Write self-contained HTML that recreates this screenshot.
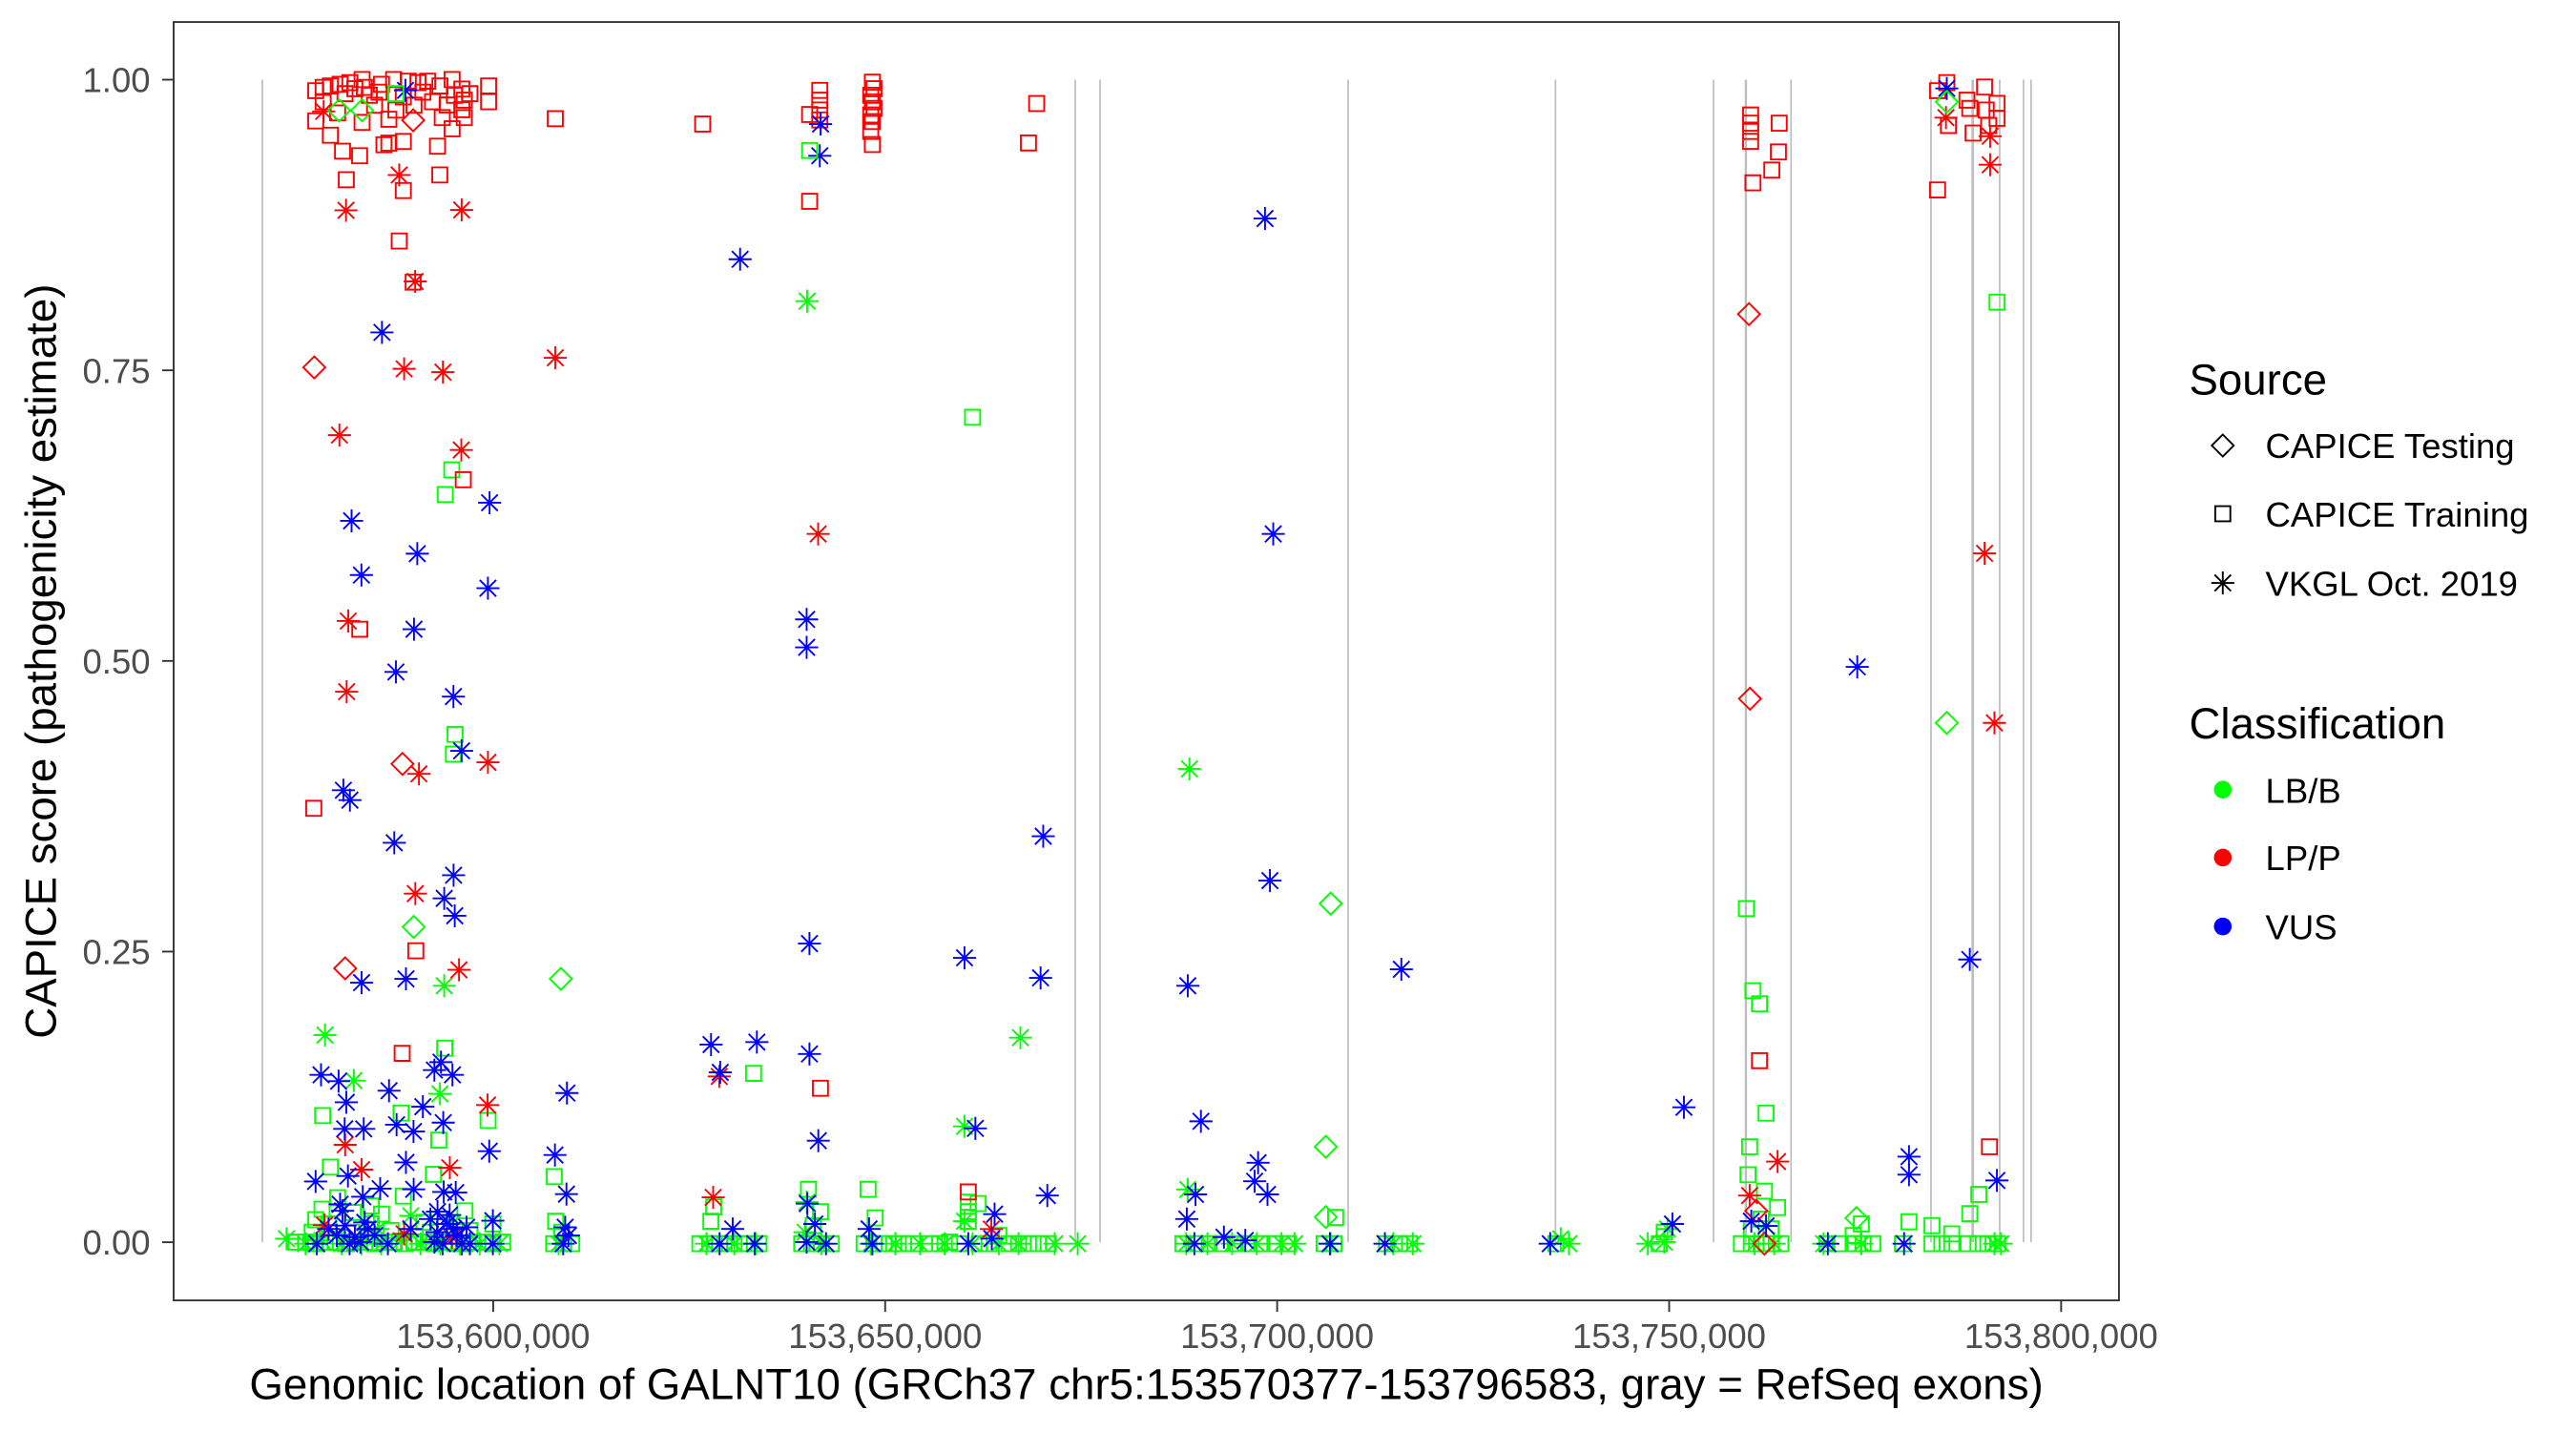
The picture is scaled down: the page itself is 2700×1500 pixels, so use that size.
<!DOCTYPE html>
<html><head><meta charset="utf-8"><style>
html,body{margin:0;padding:0;background:#fff;}
svg{display:block;}
text{font-family:"Liberation Sans",Arial,sans-serif;}
</style></head><body>
<svg width="2700" height="1500" viewBox="0 0 1568 871" preserveAspectRatio="none" xmlns="http://www.w3.org/2000/svg">
<defs>
<path id="s" d="M-4.6-4.6h9.2v9.2h-9.2z"/>
<path id="d" d="M0-6.7L6.7 0 0 6.7-6.7 0z"/>
<path id="a" d="M0-7V7M-7 0H7M-5-5L5 5M-5 5L5-5"/>
</defs>
<rect x="0" y="0" width="1568" height="871" fill="#fff"/>
<g stroke="#bebebe" stroke-width="1">
<line x1="159.7" y1="48.5" x2="159.7" y2="756.1"/>
<line x1="654.5" y1="48.5" x2="654.5" y2="756.1"/>
<line x1="669.6" y1="48.5" x2="669.6" y2="756.1"/>
<line x1="820.6" y1="48.5" x2="820.6" y2="756.1"/>
<line x1="946.8" y1="48.5" x2="946.8" y2="756.1"/>
<line x1="1043" y1="48.5" x2="1043" y2="756.1"/>
<line x1="1062.7" y1="48.5" x2="1062.7" y2="756.1" stroke-width="1.4"/>
<line x1="1090.2" y1="48.5" x2="1090.2" y2="756.1"/>
<line x1="1175.4" y1="48.5" x2="1175.4" y2="756.1"/>
<line x1="1200.8" y1="48.5" x2="1200.8" y2="756.1" stroke-width="1.6"/>
<line x1="1217.2" y1="48.5" x2="1217.2" y2="756.1"/>
<line x1="1231.7" y1="48.5" x2="1231.7" y2="756.1"/>
<line x1="1236.3" y1="48.5" x2="1236.3" y2="756.1"/>
</g>
<g fill="none" stroke="#00ff00" stroke-width="1.1">
<use href="#s" x="270.7" y="638"/><use href="#s" x="271" y="301"/><use href="#s" x="275" y="286"/><use href="#s" x="277" y="447"/><use href="#s" x="276" y="459"/>
<use href="#s" x="196.4" y="679"/><use href="#s" x="244.1" y="677.5"/><use href="#s" x="297.1" y="682"/><use href="#s" x="267.1" y="694"/><use href="#s" x="201.1" y="710.4"/><use href="#s" x="263.8" y="714.8"/><use href="#s" x="205.5" y="729"/><use href="#s" x="232.2" y="739"/><use href="#s" x="245.5" y="728"/><use href="#s" x="192.2" y="742.4"/>
<use href="#s" x="180" y="756"/><use href="#s" x="186" y="756"/><use href="#s" x="192" y="757"/><use href="#s" x="198" y="756"/><use href="#s" x="204" y="756"/><use href="#s" x="210" y="757"/><use href="#s" x="216" y="756"/><use href="#s" x="222" y="756"/><use href="#s" x="228" y="757"/><use href="#s" x="234" y="756"/><use href="#s" x="240" y="756"/><use href="#s" x="246" y="757"/><use href="#s" x="252" y="756"/><use href="#s" x="258" y="756"/><use href="#s" x="264" y="757"/><use href="#s" x="270" y="756"/><use href="#s" x="276" y="756"/><use href="#s" x="282" y="757"/><use href="#s" x="288" y="756"/><use href="#s" x="294" y="756"/><use href="#s" x="300" y="757"/><use href="#s" x="306" y="756"/>
<use href="#s" x="190" y="750"/><use href="#s" x="214" y="750"/><use href="#s" x="238" y="749"/><use href="#s" x="262" y="750"/><use href="#s" x="286" y="749"/><use href="#s" x="200" y="745"/><use href="#s" x="226" y="745"/><use href="#s" x="258" y="744"/><use href="#s" x="300" y="745"/><use href="#s" x="215" y="738"/><use href="#s" x="283" y="737"/><use href="#s" x="196" y="736"/><use href="#s" x="226" y="734"/>
<use href="#s" x="337.4" y="716.2"/><use href="#s" x="338.2" y="743.3"/><use href="#s" x="342" y="750"/><use href="#s" x="337" y="757"/><use href="#s" x="343" y="757"/><use href="#s" x="348" y="757"/>
<use href="#s" x="458.7" y="653.3"/><use href="#s" x="434.4" y="734.6"/><use href="#s" x="432.7" y="743.3"/><use href="#s" x="426" y="757"/><use href="#s" x="432" y="757"/><use href="#s" x="438" y="757"/><use href="#s" x="444" y="757"/><use href="#s" x="450" y="757"/><use href="#s" x="456" y="757"/><use href="#s" x="462" y="757"/>
<use href="#s" x="492.1" y="723.9"/><use href="#s" x="499.4" y="737.5"/><use href="#s" x="495" y="746"/><use href="#s" x="488" y="757"/><use href="#s" x="494" y="757"/><use href="#s" x="500" y="757"/><use href="#s" x="506" y="757"/>
<use href="#s" x="528.4" y="723.9"/><use href="#s" x="532.7" y="741.3"/><use href="#s" x="526" y="757"/><use href="#s" x="532" y="757"/><use href="#s" x="538" y="757"/><use href="#s" x="544" y="757"/><use href="#s" x="550" y="757"/><use href="#s" x="556" y="757"/>
<use href="#s" x="589.4" y="731.7"/><use href="#s" x="595.4" y="732.6"/><use href="#s" x="589.4" y="737.5"/><use href="#s" x="589.4" y="743.3"/><use href="#s" x="592" y="254"/>
<use href="#s" x="566" y="757"/><use href="#s" x="572" y="757"/><use href="#s" x="578" y="756"/><use href="#s" x="584" y="757"/><use href="#s" x="596" y="757"/><use href="#s" x="602" y="757"/><use href="#s" x="608" y="752"/><use href="#s" x="614" y="757"/><use href="#s" x="620" y="757"/><use href="#s" x="626" y="757"/><use href="#s" x="632" y="757"/><use href="#s" x="638" y="757"/>
<use href="#s" x="720" y="757"/><use href="#s" x="728" y="757"/><use href="#s" x="736" y="757"/><use href="#s" x="744" y="757"/><use href="#s" x="752" y="757"/><use href="#s" x="760" y="757"/><use href="#s" x="768" y="757"/><use href="#s" x="776" y="757"/><use href="#s" x="784" y="757"/>
<use href="#s" x="813" y="741"/><use href="#s" x="806" y="757"/><use href="#s" x="812" y="757"/><use href="#s" x="844" y="757"/><use href="#s" x="852" y="757"/><use href="#s" x="858" y="757"/><use href="#s" x="947" y="757"/><use href="#s" x="1010" y="757"/><use href="#s" x="1013" y="750"/>
<use href="#s" x="1063" y="553"/><use href="#s" x="1067" y="603"/><use href="#s" x="1071" y="611"/><use href="#s" x="1075" y="677.5"/><use href="#s" x="1065" y="698"/><use href="#s" x="1064" y="715"/><use href="#s" x="1074" y="725"/><use href="#s" x="1082" y="735"/><use href="#s" x="1072" y="742"/><use href="#s" x="1078" y="748"/><use href="#s" x="1066" y="748"/>
<use href="#s" x="1060" y="757"/><use href="#s" x="1066" y="757"/><use href="#s" x="1072" y="757"/><use href="#s" x="1078" y="757"/><use href="#s" x="1084" y="757"/>
<use href="#s" x="1133" y="745"/><use href="#s" x="1128" y="752"/><use href="#s" x="1112" y="757"/><use href="#s" x="1120" y="757"/><use href="#s" x="1128" y="757"/><use href="#s" x="1134" y="757"/><use href="#s" x="1140" y="757"/>
<use href="#s" x="1162" y="743.6"/><use href="#s" x="1176" y="746"/><use href="#s" x="1188" y="751"/><use href="#s" x="1158" y="757"/><use href="#s" x="1176" y="757"/><use href="#s" x="1182" y="757"/><use href="#s" x="1188" y="757"/><use href="#s" x="1198" y="757"/><use href="#s" x="1204" y="757"/><use href="#s" x="1210" y="757"/><use href="#s" x="1216" y="757"/>
<use href="#s" x="1215.6" y="183.9"/><use href="#s" x="1204.5" y="727"/><use href="#s" x="1199" y="738.7"/>
<use href="#a" x="174.4" y="754"/><use href="#a" x="197.8" y="630"/><use href="#a" x="215.4" y="657.7"/><use href="#a" x="267.8" y="665.8"/><use href="#a" x="270.4" y="600"/>
<use href="#a" x="186" y="757"/><use href="#a" x="196" y="755"/><use href="#a" x="208" y="757"/><use href="#a" x="220" y="757"/><use href="#a" x="232" y="757"/><use href="#a" x="244" y="755"/><use href="#a" x="256" y="757"/><use href="#a" x="268" y="757"/><use href="#a" x="280" y="757"/><use href="#a" x="292" y="757"/><use href="#a" x="304" y="757"/><use href="#a" x="230" y="748"/><use href="#a" x="275" y="745"/><use href="#a" x="250" y="740"/>
<use href="#a" x="491.3" y="183.3"/><use href="#a" x="587.1" y="685.6"/><use href="#a" x="621.1" y="631.6"/><use href="#a" x="587.1" y="743.3"/><use href="#a" x="656" y="757"/><use href="#a" x="723" y="724"/><use href="#a" x="724" y="468"/><use href="#a" x="491.1" y="731.7"/>
<use href="#a" x="340" y="757"/><use href="#a" x="430" y="757"/><use href="#a" x="447" y="757"/><use href="#a" x="460" y="757"/><use href="#a" x="490" y="750"/><use href="#a" x="500" y="757"/><use href="#a" x="530" y="757"/><use href="#a" x="545" y="757"/><use href="#a" x="560" y="757"/><use href="#a" x="575" y="757"/><use href="#a" x="592" y="757"/><use href="#a" x="608" y="757"/><use href="#a" x="620" y="757"/><use href="#a" x="642" y="757"/>
<use href="#a" x="722" y="757"/><use href="#a" x="735" y="757"/><use href="#a" x="750" y="757"/><use href="#a" x="765" y="757"/><use href="#a" x="780" y="757"/><use href="#a" x="788" y="757"/><use href="#a" x="810" y="757"/><use href="#a" x="848" y="757"/><use href="#a" x="860" y="757"/>
<use href="#a" x="950" y="754"/><use href="#a" x="955" y="757"/><use href="#a" x="1003" y="757"/><use href="#a" x="1015" y="748"/><use href="#a" x="1013" y="756"/>
<use href="#a" x="1068" y="757"/><use href="#a" x="1080" y="757"/><use href="#a" x="1110" y="757"/><use href="#a" x="1133" y="757"/><use href="#a" x="1214" y="757"/><use href="#a" x="1218" y="757"/>
<use href="#d" x="251.8" y="564.2"/><use href="#d" x="341.4" y="595.8"/><use href="#d" x="807" y="698"/><use href="#d" x="807" y="740.8"/><use href="#d" x="810" y="550"/><use href="#d" x="1130" y="741.4"/><use href="#d" x="1185" y="440"/>
</g>
<g fill="none" stroke="#ff0000" stroke-width="1.1">
<use href="#s" x="192.2" y="55.2"/><use href="#s" x="196.7" y="53.2"/><use href="#s" x="201.1" y="52.3"/><use href="#s" x="207" y="51.3"/><use href="#s" x="213" y="50.3"/><use href="#s" x="220.4" y="48.4"/><use href="#s" x="221.8" y="53.2"/><use href="#s" x="232.2" y="51.3"/><use href="#s" x="239.6" y="48.4"/><use href="#s" x="248.5" y="49.4"/><use href="#s" x="254.4" y="50.3"/><use href="#s" x="260.3" y="49.4"/><use href="#s" x="267.8" y="52.3"/><use href="#s" x="275.2" y="48.4"/><use href="#s" x="281.1" y="54.2"/><use href="#s" x="297.4" y="52.3"/><use href="#s" x="297.4" y="61.9"/>
<use href="#s" x="192.2" y="73.6"/><use href="#s" x="201.1" y="82.3"/><use href="#s" x="208.5" y="92"/><use href="#s" x="218.9" y="94.8"/><use href="#s" x="233.7" y="88.1"/><use href="#s" x="236.7" y="87.1"/><use href="#s" x="245.5" y="86.1"/><use href="#s" x="266.3" y="89"/><use href="#s" x="275.2" y="78.4"/><use href="#s" x="282.6" y="71.6"/><use href="#s" x="269.2" y="71.6"/><use href="#s" x="236.7" y="72.6"/><use href="#s" x="263.3" y="61.9"/><use href="#s" x="272.2" y="63.9"/><use href="#s" x="281.1" y="66.8"/><use href="#s" x="196.7" y="61.9"/><use href="#s" x="205.5" y="68.7"/><use href="#s" x="220.4" y="74.5"/><use href="#s" x="224.8" y="58"/><use href="#s" x="230.7" y="56.1"/><use href="#s" x="245.5" y="59"/><use href="#s" x="257.4" y="56.1"/><use href="#s" x="276.6" y="58"/><use href="#s" x="282.6" y="61"/><use href="#s" x="210" y="57"/><use href="#s" x="216" y="54"/><use href="#s" x="228" y="64"/><use href="#s" x="252" y="64"/><use href="#s" x="241" y="67"/><use href="#s" x="286" y="57"/>
<use href="#s" x="243" y="146.7"/><use href="#s" x="210.8" y="109.4"/><use href="#s" x="245.5" y="116"/><use href="#s" x="267.7" y="106.5"/><use href="#s" x="251.5" y="171.7"/>
<use href="#s" x="191" y="492"/><use href="#s" x="219" y="383"/><use href="#s" x="253.1" y="578.7"/><use href="#s" x="282" y="292"/><use href="#s" x="244.8" y="641.1"/>
<use href="#s" x="338" y="72.2"/><use href="#s" x="427.7" y="75.5"/><use href="#s" x="492.8" y="69.7"/><use href="#s" x="499" y="55"/><use href="#s" x="499" y="61"/><use href="#s" x="499" y="67"/><use href="#s" x="499" y="73"/><use href="#s" x="492.8" y="122.5"/>
<use href="#s" x="531" y="50"/><use href="#s" x="532" y="54"/><use href="#s" x="530" y="58"/><use href="#s" x="531" y="62"/><use href="#s" x="532" y="66"/><use href="#s" x="530" y="70"/><use href="#s" x="531" y="74"/><use href="#s" x="530" y="80"/><use href="#s" x="531" y="88"/>
<use href="#s" x="626" y="87"/><use href="#s" x="631" y="63"/><use href="#s" x="499.4" y="662.4"/><use href="#s" x="589.4" y="725.5"/>
<use href="#s" x="1065.6" y="70"/><use href="#s" x="1065.6" y="75"/><use href="#s" x="1065.6" y="80"/><use href="#s" x="1065.6" y="86"/><use href="#s" x="1083" y="75"/><use href="#s" x="1082.5" y="92.5"/><use href="#s" x="1078.5" y="103.5"/><use href="#s" x="1067" y="111.3"/><use href="#s" x="1071" y="645.6"/>
<use href="#s" x="1179.4" y="55.2"/><use href="#s" x="1185" y="50.3"/><use href="#s" x="1197.3" y="61"/><use href="#s" x="1199" y="66"/><use href="#s" x="1208" y="53"/><use href="#s" x="1215.6" y="62.9"/><use href="#s" x="1215.6" y="72"/><use href="#s" x="1209" y="67"/><use href="#s" x="1210.5" y="76.4"/><use href="#s" x="1201" y="81"/><use href="#s" x="1186" y="76.4"/><use href="#s" x="1179.4" y="115.6"/><use href="#s" x="1211" y="698"/>
<use href="#a" x="210.6" y="128"/><use href="#a" x="281" y="127.8"/><use href="#a" x="243" y="106.5"/><use href="#a" x="252.7" y="171.3"/><use href="#a" x="197" y="67.8"/><use href="#a" x="246" y="224.5"/><use href="#a" x="269.6" y="226.5"/><use href="#a" x="338" y="217.8"/><use href="#a" x="206.6" y="264.8"/><use href="#a" x="280.8" y="273.9"/>
<use href="#a" x="212" y="378"/><use href="#a" x="211" y="421"/><use href="#a" x="255" y="471"/><use href="#a" x="297" y="464"/><use href="#a" x="252.8" y="543.9"/><use href="#a" x="279.4" y="590.3"/>
<use href="#a" x="498" y="325"/><use href="#a" x="437.8" y="655.2"/><use href="#a" x="434.1" y="728.8"/><use href="#a" x="603.4" y="748.1"/>
<use href="#a" x="210.1" y="696.8"/><use href="#a" x="220.1" y="711.9"/><use href="#a" x="273.8" y="710.8"/><use href="#a" x="296.8" y="672.6"/><use href="#a" x="197.5" y="745.7"/><use href="#a" x="275.2" y="753"/><use href="#a" x="246" y="751"/>
<use href="#a" x="1082" y="707"/><use href="#a" x="1065" y="727.7"/><use href="#a" x="1184.5" y="71.6"/><use href="#a" x="1211.4" y="82.9"/><use href="#a" x="1211.4" y="100.3"/><use href="#a" x="1208" y="336.8"/><use href="#a" x="1214" y="440"/>
<use href="#d" x="191.3" y="223.6"/><use href="#d" x="251.5" y="73.2"/><use href="#d" x="245" y="465"/><use href="#d" x="210.1" y="589.4"/><use href="#d" x="1064.6" y="191.2"/><use href="#d" x="1065.2" y="425.3"/><use href="#d" x="1069" y="737"/><use href="#d" x="1074" y="757"/>
</g>
<g fill="none" stroke="#0000ff" stroke-width="1.1">
<use href="#a" x="246.8" y="55"/><use href="#a" x="232.5" y="202.3"/><use href="#a" x="450.5" y="157.8"/><use href="#a" x="499.5" y="75.5"/><use href="#a" x="499" y="94.8"/>
<use href="#a" x="214" y="317"/><use href="#a" x="220" y="350"/><use href="#a" x="254" y="337"/><use href="#a" x="241" y="409"/><use href="#a" x="252" y="383"/><use href="#a" x="298" y="306"/><use href="#a" x="297" y="358"/><use href="#a" x="276" y="424"/><use href="#a" x="281" y="457"/>
<use href="#a" x="276.1" y="532.7"/><use href="#a" x="270.4" y="546.8"/><use href="#a" x="276.8" y="557.4"/><use href="#a" x="240" y="513"/><use href="#a" x="209" y="481"/><use href="#a" x="213" y="487"/><use href="#a" x="220.1" y="598.1"/><use href="#a" x="247.1" y="595.8"/>
<use href="#a" x="195.4" y="654.2"/><use href="#a" x="206.1" y="658.1"/><use href="#a" x="268.4" y="646.5"/><use href="#a" x="264.4" y="651.3"/><use href="#a" x="275.4" y="654.2"/><use href="#a" x="236.8" y="663.9"/><use href="#a" x="210.8" y="670.9"/><use href="#a" x="345.1" y="665.3"/><use href="#a" x="257.4" y="673.6"/>
<use href="#a" x="209.8" y="687.1"/><use href="#a" x="221.4" y="687.1"/><use href="#a" x="241.4" y="684.6"/><use href="#a" x="251.7" y="688.7"/><use href="#a" x="269.8" y="683.3"/><use href="#a" x="297.8" y="700.7"/><use href="#a" x="337.8" y="703"/>
<use href="#a" x="247.1" y="707.5"/><use href="#a" x="192.1" y="719.1"/><use href="#a" x="211.8" y="715.8"/><use href="#a" x="231.4" y="723.5"/><use href="#a" x="220.8" y="728.4"/><use href="#a" x="251.8" y="723.9"/><use href="#a" x="270.1" y="725.5"/><use href="#a" x="277.4" y="725.9"/><use href="#a" x="344.8" y="726.8"/>
<use href="#a" x="207" y="733"/><use href="#a" x="208.5" y="737"/><use href="#a" x="266.3" y="737.5"/><use href="#a" x="273.7" y="739.5"/><use href="#a" x="200" y="748"/><use href="#a" x="224" y="748"/><use href="#a" x="250" y="748"/><use href="#a" x="276" y="748"/><use href="#a" x="300" y="743"/><use href="#a" x="344" y="747"/>
<use href="#a" x="205" y="752"/><use href="#a" x="210" y="746"/><use href="#a" x="216" y="753"/><use href="#a" x="222" y="744"/><use href="#a" x="228" y="752"/><use href="#a" x="262" y="742"/><use href="#a" x="266" y="750"/><use href="#a" x="272" y="745"/><use href="#a" x="278" y="752"/><use href="#a" x="284" y="747"/><use href="#a" x="286" y="757"/>
<use href="#a" x="192.8" y="757"/><use href="#a" x="212.8" y="757"/><use href="#a" x="219.4" y="756"/><use href="#a" x="236.1" y="757"/><use href="#a" x="264.4" y="756"/><use href="#a" x="269.4" y="757"/><use href="#a" x="281.1" y="757"/><use href="#a" x="300" y="757"/><use href="#a" x="342.8" y="757"/><use href="#a" x="346" y="752"/>
<use href="#a" x="492.7" y="574.3"/><use href="#a" x="432.8" y="635.8"/><use href="#a" x="460.7" y="634.3"/><use href="#a" x="492.7" y="641.5"/><use href="#a" x="438.4" y="652.7"/><use href="#a" x="498.1" y="694.3"/><use href="#a" x="491" y="377"/><use href="#a" x="491" y="394"/><use href="#a" x="491.4" y="732.6"/><use href="#a" x="496" y="745"/>
<use href="#a" x="438" y="757"/><use href="#a" x="446" y="748"/><use href="#a" x="459.4" y="757"/><use href="#a" x="502.8" y="757"/><use href="#a" x="491" y="756"/><use href="#a" x="531" y="757"/><use href="#a" x="529" y="748"/><use href="#a" x="589.4" y="757"/><use href="#a" x="603.7" y="753.9"/><use href="#a" x="605.4" y="739"/>
<use href="#a" x="587.1" y="583"/><use href="#a" x="593.7" y="686.8"/><use href="#a" x="633.4" y="595.2"/><use href="#a" x="635" y="509"/><use href="#a" x="637.5" y="727.7"/>
<use href="#a" x="723" y="600"/><use href="#a" x="731" y="682.5"/><use href="#a" x="727.7" y="727"/><use href="#a" x="722.4" y="742"/><use href="#a" x="765.8" y="707.7"/><use href="#a" x="763.7" y="719"/><use href="#a" x="771.5" y="727"/><use href="#a" x="727" y="757"/><use href="#a" x="745" y="753"/><use href="#a" x="758" y="755"/>
<use href="#a" x="770" y="133"/><use href="#a" x="775" y="325"/><use href="#a" x="773" y="536"/><use href="#a" x="853" y="590"/><use href="#a" x="809.5" y="757"/><use href="#a" x="843" y="757"/><use href="#a" x="943.6" y="757"/>
<use href="#a" x="1025" y="674"/><use href="#a" x="1018" y="745"/><use href="#a" x="1066" y="743.3"/><use href="#a" x="1075" y="746.2"/><use href="#a" x="1130.5" y="405.9"/><use href="#a" x="1112.6" y="757"/><use href="#a" x="1159" y="757"/><use href="#a" x="1162" y="704"/><use href="#a" x="1162" y="715"/>
<use href="#a" x="1185" y="53.8"/><use href="#a" x="1199" y="584"/><use href="#a" x="1215.5" y="718.5"/>
</g>
<g fill="none" stroke="#00ff00" stroke-width="1.1">
<use href="#d" x="206.4" y="67.2"/><use href="#d" x="220.4" y="67.2"/><use href="#s" x="241" y="57"/><use href="#d" x="1185" y="62"/><use href="#s" x="492.8" y="91.6"/>
</g>
<rect x="105.7" y="13.4" width="1184.1" height="778.1" fill="none" stroke="#333333" stroke-width="1.1"/>
<g stroke="#333333" stroke-width="1.1">
<line x1="98.7" y1="48.5" x2="105.7" y2="48.5"/>
<line x1="98.7" y1="225.4" x2="105.7" y2="225.4"/>
<line x1="98.7" y1="402.3" x2="105.7" y2="402.3"/>
<line x1="98.7" y1="579.2" x2="105.7" y2="579.2"/>
<line x1="98.7" y1="756.1" x2="105.7" y2="756.1"/>
<line x1="300.2" y1="791.5" x2="300.2" y2="798.5"/>
<line x1="538.8" y1="791.5" x2="538.8" y2="798.5"/>
<line x1="777.4" y1="791.5" x2="777.4" y2="798.5"/>
<line x1="1016" y1="791.5" x2="1016" y2="798.5"/>
<line x1="1254.6" y1="791.5" x2="1254.6" y2="798.5"/>
</g>
<g fill="#4d4d4d" font-size="21.2" text-anchor="end">
<text x="91.5" y="56.1">1.00</text>
<text x="91.5" y="233">0.75</text>
<text x="91.5" y="409.9">0.50</text>
<text x="91.5" y="586.8">0.25</text>
<text x="91.5" y="763.7">0.00</text>
</g>
<g fill="#4d4d4d" font-size="21.2" text-anchor="middle">
<text x="300.2" y="820.6">153,600,000</text>
<text x="538.8" y="820.6">153,650,000</text>
<text x="777.4" y="820.6">153,700,000</text>
<text x="1016" y="820.6">153,750,000</text>
<text x="1254.6" y="820.6">153,800,000</text>
</g>
<text x="697.8" y="851.5" font-size="26.5" text-anchor="middle" fill="#000" textLength="1092" lengthAdjust="spacingAndGlyphs">Genomic location of GALNT10 (GRCh37 chr5:153570377-153796583, gray = RefSeq exons)</text>
<text transform="translate(34,402.5) rotate(-90)" font-size="26.5" text-anchor="middle" fill="#000">CAPICE score (pathogenicity estimate)</text>
<text x="1332.5" y="240" font-size="26.5" fill="#000">Source</text>
<g fill="none" stroke="#000" stroke-width="1.1">
<use href="#d" x="1353" y="271.2"/>
<use href="#s" x="1353" y="312.7"/>
<use href="#a" x="1353" y="354.8"/>
</g>
<g font-size="21.2" fill="#000">
<text x="1379" y="278.8">CAPICE Testing</text>
<text x="1379" y="320.6">CAPICE Training</text>
<text x="1379" y="362.6">VKGL Oct. 2019</text>
</g>
<text x="1332.5" y="449.5" font-size="26.5" fill="#000">Classification</text>
<circle cx="1353" cy="480.6" r="5.4" fill="#00ff00"/>
<circle cx="1353" cy="522" r="5.4" fill="#ff0000"/>
<circle cx="1353" cy="563.9" r="5.4" fill="#0000ff"/>
<g font-size="21.2" fill="#000">
<text x="1379" y="488.6">LB/B</text>
<text x="1379" y="529.6">LP/P</text>
<text x="1379" y="571.6">VUS</text>
</g>
</svg>
</body></html>
